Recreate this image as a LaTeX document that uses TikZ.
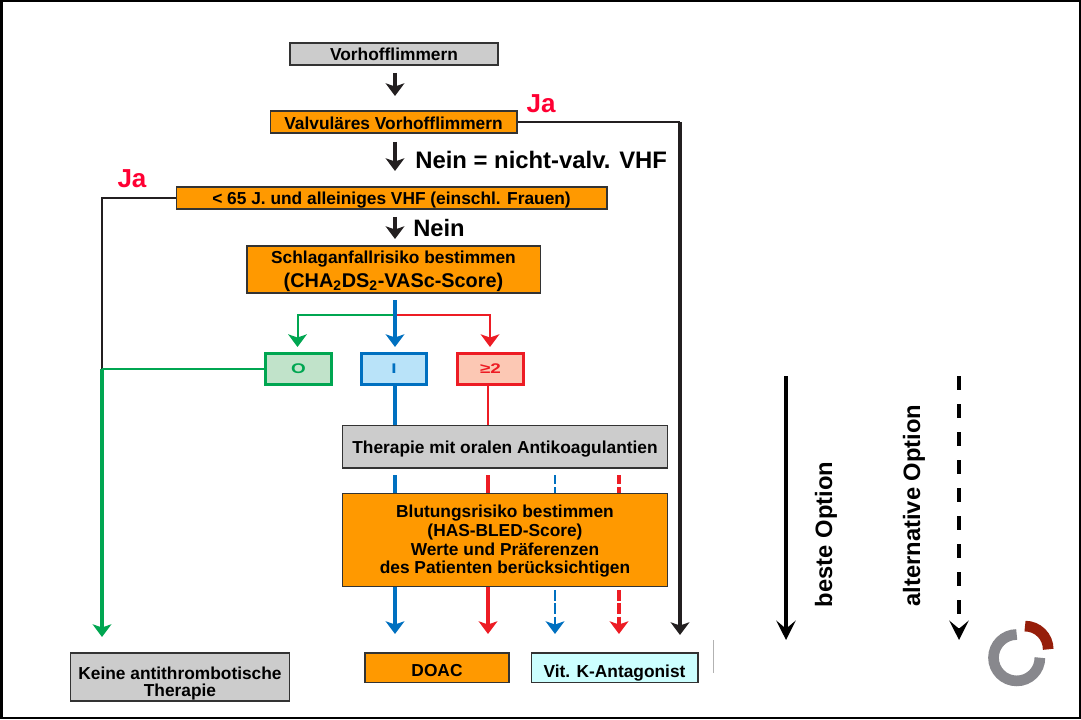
\documentclass[tikz,border=0pt]{standalone}
\usepackage{fontspec}
\setmainfont{Liberation Sans}
\usetikzlibrary{arrows.meta}
\definecolor{orangebox}{HTML}{FF9900}
\definecolor{graybox}{HTML}{CCCCCC}
\definecolor{edgegray}{HTML}{333333}
\definecolor{cgreen}{HTML}{00A651}
\definecolor{cblue}{HTML}{0070C0}
\definecolor{cred}{HTML}{ED1C24}
\definecolor{cja}{HTML}{FF0033}
\definecolor{cblack}{HTML}{231F20}
\definecolor{fgreen}{HTML}{C1E3CA}
\definecolor{fblue}{HTML}{B9E3F9}
\definecolor{fred}{HTML}{FCC8B4}
\definecolor{fcyan}{HTML}{CCFFFF}
\tikzset{
  x=0.75pt,y=-0.75pt,
  box/.style={draw=edgegray,line width=1pt,inner sep=0pt,align=center,font=\bfseries,text=black},
  obox/.style={box,fill=orangebox},
  gbox/.style={box,fill=graybox},
  catbox/.style={inner sep=0pt,line width=2.4pt,minimum width=49pt,minimum height=23pt,font=\bfseries\fontsize{10.5}{10.5}\selectfont},
  tip/.style={-{Stealth[length=9.5pt,width=14pt,inset=2.4pt]}},
  legtip/.style={-{Stealth[length=14.5pt,width=14.5pt,inset=6pt]}},
  con/.style={line width=#1,line join=miter},
  con/.default=1.5pt,
  lab/.style={font=\bfseries,inner sep=0pt},
}
\newcommand{\fs}[1]{\fontsize{#1}{#1}\selectfont}
\newcommand{\lowered}[2]{\smash{\raisebox{-#1}{#2}}}
\begin{document}
\begin{tikzpicture}
\useasboundingbox (0,0) rectangle (1081,720);
\fill[white] (0,0) rectangle (1081,720);
\coordinate (fa) at (1.5,1.5);
\coordinate (fb) at (1079.5,717.5);
\draw[black,line width=1.5pt] (fa) rectangle (fb);

% boxes
\node[gbox,minimum width=156pt,minimum height=16.5pt] (vhf) at (394,54) {\lowered{4.6pt}{\fs{13}Vorhofflimmern}};
\node[obox,minimum width=185pt,minimum height=16.5pt] (valv) at (393.5,122) {\lowered{5.4pt}{\fs{13}Valvuläres Vorhofflimmern}};
\node[obox,minimum width=323pt,minimum height=16.5pt] (u65) at (391.5,198) {\lowered{5.2pt}{\fs{13}< 65 J. und alleiniges VHF (einschl. Frauen)}};
\node[obox,minimum width=220pt,minimum height=35pt] (schlag) at (393.5,269.5) {\rule{0pt}{12pt}\fs{13}Schlaganfallrisiko bestimmen\\[3pt]\fs{14.9}(CHA\textsubscript{2}DS\textsubscript{2}-VASc-Score)};
\node[catbox,draw=cgreen,fill=fgreen,text=cgreen] (c0) at (298.5,369) {\scalebox{1.35}[1]{O}};
\node[catbox,draw=cblue,fill=fblue,text=cblue] (c1) at (394,369) {\scalebox{1.35}[1]{I}};
\node[catbox,draw=cred,fill=fred,text=cred] (c2) at (490.5,369) {\scalebox{1.35}[1]{≥2}};
\node[gbox,minimum width=244pt,minimum height=32pt] (ther) at (505,446.5) {\lowered{5.6pt}{\fs{13}Therapie mit oralen Antikoagulantien}};
\node[obox,minimum width=244pt,minimum height=70pt,align=center] (blut) at (505,540) {\rule{0pt}{11pt}\fs{13}Blutungsrisiko bestimmen\\[1.2pt]\fs{13}(HAS-BLED-Score)\\[1.2pt]\fs{13}Werte und Präferenzen\\[1.2pt]\fs{13}des Patienten berücksichtigen};
\node[obox,minimum width=108pt,minimum height=22pt] (doac) at (437,667.5) {\lowered{7pt}{\fs{13}DOAC}};
\node[box,fill=fcyan,minimum width=125pt,minimum height=22pt] (vka) at (614.5,667.5) {\lowered{7.5pt}{\fs{13}Vit. K-Antagonist}};
\node[gbox,minimum width=164pt,minimum height=36pt] (keine) at (180,677) {\rule{0pt}{19.3pt}\fs{13}Keine antithrombotische\\[1.2pt]\fs{13}Therapie};

% labels
\node[lab,text=cja,font=\bfseries\fs{19.5}] (ja1) at (541,104) {Ja};
\node[lab,text=cja,font=\bfseries\fs{19.5}] (ja2) at (132,179) {Ja};
\node[lab,font=\bfseries\fs{17.9},anchor=west] (nein1) at (415,160) {Nein = nicht-valv. VHF};
\node[lab,font=\bfseries\fs{17.8},anchor=west] (nein2) at (413,228) {Nein};
\node[lab,font=\bfseries\fs{17.8},rotate=90] (beste) at (826,534.5) {beste Option};
\node[lab,font=\bfseries\fs{17.8},rotate=90] (alt) at (914,505.5) {alternative Option};

% free connector ends
\coordinate (a1s) at (395,73);  \coordinate (a1e) at (395,96);
\coordinate (a2s) at (395,142); \coordinate (a2e) at (395,171);
\coordinate (a3s) at (395,217); \coordinate (a3e) at (395,239);
\coordinate (ts) at (395,300);  \coordinate (tm) at (395,315);
\coordinate (te) at (395,347);
\coordinate (ge) at (297.5,347); \coordinate (re) at (490,347);
\coordinate (gd) at (102,369);  \coordinate (ga) at (102,637);
\coordinate (kr) at (680,122);  \coordinate (ka) at (680,635);
\coordinate (b1) at (395,475);  \coordinate (b4) at (395,634);
\coordinate (r1) at (488,475);  \coordinate (r4) at (488,634);
\coordinate (db1) at (555,475); \coordinate (db3) at (555,590); \coordinate (db4) at (555,634);
\coordinate (dr1) at (619,475); \coordinate (dr3) at (619,590); \coordinate (dr4) at (619,634);
\coordinate (l1) at (786,376);  \coordinate (l2) at (786,640);
\coordinate (l3) at (959,376);  \coordinate (l4) at (959,640);
\coordinate (t1) at (713,640);  \coordinate (t2) at (713,673);

% black connectors
\draw[con=2.6pt,cblack,tip] (a1s) -- (a1e);
\draw[con=2.6pt,cblack,tip] (a2s) -- (a2e);
\draw[con=2.6pt,cblack,tip] (a3s) -- (a3e);
\draw[con=1.1pt,cblack] (u65.west) -| (gd);
\draw[con=1.1pt,cblack] (valv.east) -- (kr);
\draw[con=3pt,cblack,tip] (kr) -- (ka);

% colour branches
\draw[con=1.5pt,cgreen,tip] (tm) -- (tm -| ge) -- (ge);
\draw[con=1.5pt,cred,tip] (tm) -- (tm -| re) -- (re);
\draw[con=3.2pt,cblue,tip] (ts) -- (te);
\draw[con=1.5pt,cgreen] (c0.west) -- (gd);
\draw[con=2.5pt,cgreen,tip] (gd) -- (ga);

% through therapy
\draw[con=3.2pt,cblue] (c1.south -| b1) -- (ther.north -| b1);
\draw[con=2.2pt,cred] (c2.south -| r1) -- (ther.north -| r1);
\draw[con=3.2pt,cblue] (b1) -- (blut.north -| b1);
\draw[con=2.5pt,cred] (r1) -- (blut.north -| r1);
\draw[con=2.2pt,cblue,dash pattern=on 7pt off 2pt] (db1) -- (blut.north -| db1);
\draw[con=3pt,cred,dash pattern=on 7pt off 2pt] (dr1) -- (blut.north -| dr1);
\draw[con=3.2pt,cblue,tip] (blut.south -| b4) -- (b4);
\draw[con=2.5pt,cred,tip] (blut.south -| r4) -- (r4);
\draw[con=2.2pt,cblue,dash pattern=on 8pt off 2pt,tip] (db3) -- (db4);
\draw[con=3pt,cred,dash pattern=on 8pt off 2pt,tip] (dr3) -- (dr4);

% legend
\draw[con=3pt,black,legtip] (l1) -- (l2);
\draw[con=3.2pt,black,dash pattern=on 10.7pt off 10.3pt,legtip] (l3) -- (l4);
\draw[gray!60,line width=0.6pt] (t1) -- (t2);

% logo
\coordinate (lg) at (1016.7,634.5);
\coordinate (lr) at (1025,626.1);
\draw[color={rgb,255:red,136;green,136;blue,141},line width=8pt] (lg) arc[start angle=90,end angle=360,radius=17.4pt];
\draw[color={rgb,255:red,150;green,30;blue,10},line width=8pt] (lr) arc[start angle=90,end angle=0,radius=17.4pt];
\end{tikzpicture}
\end{document}
